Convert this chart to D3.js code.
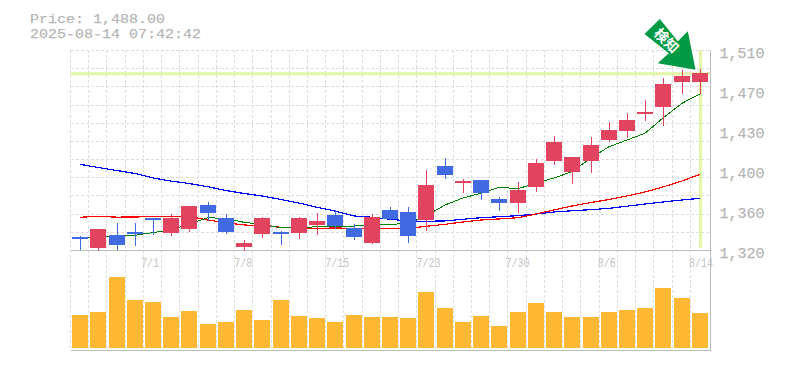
<!DOCTYPE html>
<html><head><meta charset="utf-8">
<script src="https://cdn.jsdelivr.net/npm/d3@7/dist/d3.min.js"></script>
<style>html,body{margin:0;padding:0;background:#fff}svg{display:block}</style>
</head><body><div id="c"></div>
<script>
const dates = ["6/25","6/26","6/27","6/30","7/1","7/2","7/3","7/4","7/7","7/8","7/9","7/10","7/11","7/14","7/15","7/16","7/17","7/18","7/22","7/23","7/24","7/25","7/28","7/29","7/30","7/31","8/1","8/4","8/5","8/6","8/7","8/8","8/12","8/13","8/14"];
const dateLabels = ["7/1","7/8","7/15","7/23","7/30","8/6","8/14"];
const priceTicks = [1320,1358,1396,1434,1472,1510];
const priceLabels = ["1,320","1,360","1,400","1,430","1,470","1,510"];
const open  = [1332.4,1321.9,1334.3,1337.1,1350.4,1335.7,1340,1362.8,1350.4,1322.9,1335.2,1337.1,1336.2,1343.8,1353.3,1340.9,1326.7,1358,1356.1,1348.5,1399.8,1384.6,1386.5,1368.5,1364.6,1379.9,1404.6,1394.1,1404.6,1424.5,1433.1,1449.2,1455.9,1479.6,1479.6];
const close = [1330.5,1340,1324.8,1335.2,1348.5,1350.4,1361.8,1355.2,1337.1,1326.7,1350.4,1335.2,1350.4,1347.6,1342.8,1332.4,1351.4,1349.5,1333.3,1381.8,1391.3,1385.6,1374.2,1364.6,1377,1402.7,1422.6,1408.4,1419.8,1434,1443.5,1451.1,1477.7,1485.3,1488];
const high  = [1333.3,1340,1345.7,1345.7,1350.4,1354.2,1361.8,1365.6,1354.2,1329.5,1351.4,1338,1351.4,1355.2,1358,1344.7,1354.2,1360.9,1360.9,1396,1407.4,1387.5,1386.5,1370.4,1384.6,1406.5,1428.3,1408.4,1427.4,1441.6,1450.2,1462.5,1483.4,1491,1492];
const low   = [1320,1319.5,1320,1323.8,1334.3,1333.3,1337.1,1347.6,1335.2,1319,1331.4,1324.8,1330.5,1334.3,1339.9,1329.5,1325.7,1348.5,1326.7,1338,1387.5,1374.2,1367.5,1357,1355.2,1375.1,1400.8,1382.7,1393.2,1422.6,1426.4,1442.6,1437.8,1468.2,1468.2];
const maShort = [1331.4,1332.4,1333.3,1334,1336.6,1339,1344.7,1350.7,1349.9,1346.3,1344.2,1341.2,1341.2,1342.1,1342.8,1342.8,1343.3,1344.4,1345.2,1352.3,1362.8,1369.4,1373.9,1379.6,1378.2,1383.6,1388.4,1394.4,1407.4,1418.1,1424.5,1430.9,1445.4,1459.4,1468.2];
const maMid = [1351.1,1352,1351.2,1351.4,1351.6,1351.8,1351.8,1348.5,1345.9,1343.8,1342.8,1341.6,1340.9,1340.6,1340.9,1340.6,1340.6,1340.6,1340.6,1342.5,1344.4,1346.6,1348.5,1349.5,1350.7,1354.2,1358,1361.8,1365.1,1368,1371.3,1375.1,1379.9,1385.5,1391.9];
const maLong = [1401.4,1398.4,1395.5,1392.7,1388.4,1385.5,1383.2,1380.1,1376.5,1373.7,1371.3,1368,1364.6,1360.6,1357,1352.3,1351.1,1349.2,1347.6,1347.3,1347.6,1349.2,1350.7,1351.6,1352.6,1354.2,1356.1,1357.3,1358.3,1359.6,1361.6,1363.7,1365.6,1367.5,1369.1];
const volume = [33,36,71,48,46,31,37,24,26,38,28,48,32,30,26,33,31,31,30,56,40,26,32,22,36,45,36,31,31,36,38,40,60,50,35];
const titleLines = ["Price: 1,488.00","2025-08-14 07:42:42"];
const currentPrice = 1488;
const arrowText = "検知";

const L=70.5,R=710.5,T=50,B=250,VB=350;
const MONO='"Liberation Mono","DejaVu Sans Mono",monospace';
const svg=d3.select("#c").append("svg").attr("width",785).attr("height",370);
const x=d3.scaleBand().domain(dates).range([71,709]);
const cx=d=>Math.round(x(d)+x.bandwidth()/2);
const y=d3.scaleLinear().domain([1320,1510]).range([B,T]);
const yv=d3.scaleLinear().domain([0,80]).range([348,268]);

// grid
const g=svg.append("g").attr("stroke","#ddd").attr("stroke-dasharray","3 2").attr("shape-rendering","crispEdges");
g.selectAll(".h").data(d3.range(12).map(i=>1320+i*190/11)).join("line")
 .attr("x1",L).attr("x2",R).attr("y1",d=>Math.round(y(d))+.5).attr("y2",d=>Math.round(y(d))+.5);
g.selectAll(".v").data(dates).join("line")
 .attr("x1",d=>Math.round(x(d))-.5).attr("x2",d=>Math.round(x(d))-.5).attr("y1",T).attr("y2",VB);

// current price markers
const hl="#e3f5a6";
svg.append("line").attr("x1",L).attr("x2",R).attr("y1",y(currentPrice)+.5).attr("y2",y(currentPrice)+.5).attr("stroke",hl).attr("stroke-width",3);
svg.append("line").attr("x1",cx(dates[34])+.5).attr("x2",cx(dates[34])+.5).attr("y1",T).attr("y2",248).attr("stroke",hl).attr("stroke-width",3);

// frame
const fr=svg.append("g").attr("stroke","#bbb").attr("shape-rendering","crispEdges");
fr.append("line").attr("x1",L).attr("x2",R).attr("y1",B+.5).attr("y2",B+.5);
fr.append("line").attr("x1",L).attr("x2",R+.5).attr("y1",VB+.5).attr("y2",VB+.5);
fr.append("line").attr("x1",R).attr("x2",R).attr("y1",T).attr("y2",VB);

// moving averages
const line=d3.line().x((v,i)=>cx(dates[i])).y(v=>y(v));
[[maLong,"#0000ff"],[maMid,"#ff0000"],[maShort,"#008000"]].forEach(([s,c])=>{
  svg.append("path").attr("d",line(s)).attr("fill","none").attr("stroke",c).attr("stroke-width",c==="#008000"?1:1.2).attr("shape-rendering","crispEdges");
});

// candles
const UP="#e2445f",DN="#4169e1";
const cg=svg.append("g").attr("shape-rendering","crispEdges");
dates.forEach((d,i)=>{
  const col=close[i]>=open[i]?UP:DN;
  const t=Math.round(y(Math.max(open[i],close[i]))), b=Math.round(y(Math.min(open[i],close[i])));
  cg.append("rect").attr("x",cx(d)-.5).attr("width",1).attr("y",y(high[i])).attr("height",y(low[i])-y(high[i])).attr("fill",col);
  cg.append("rect").attr("x",cx(d)-8).attr("width",16).attr("y",t).attr("height",Math.max(2,b-t)).attr("fill",col);
});

// volume
svg.append("g").selectAll("rect").data(volume).join("rect").attr("shape-rendering","crispEdges")
 .attr("x",(v,i)=>cx(dates[i])-8).attr("width",16).attr("y",v=>yv(v)).attr("height",v=>yv(0)-yv(v)).attr("fill","#ffb833");

// axes
const ay=svg.append("g").attr("transform",`translate(${R},0)`)
 .call(d3.axisRight(y).tickValues(priceTicks).tickFormat((d,i)=>priceLabels[i]).tickSize(0).tickPadding(9));
ay.select(".domain").remove();
ay.selectAll("text").attr("dy","7px").attr("fill","#b4b4b4").attr("stroke","#bbb").attr("stroke-width",.25).attr("font-family",MONO).attr("font-size",15);
const ax=svg.append("g").attr("transform",`translate(0,${B})`)
 .call(d3.axisBottom(x).tickValues(dates.filter(d=>dateLabels.includes(d))).tickSize(0).tickPadding(0));
ax.select(".domain").remove();
const labelNudge=[-3,-1,2,2,0,-2,1];
ax.selectAll("text").attr("y",0).attr("dy","17px").attr("dx",(d,i)=>labelNudge[i]).attr("fill","#c4c4c4").attr("font-family",MONO).attr("font-size",13)
 .attr("textLength",d=>d.length*6).attr("lengthAdjust","spacingAndGlyphs");

// title
svg.append("g").selectAll("text").data(titleLines).join("text").attr("x",30).attr("y",(d,i)=>22.5+i*15)
 .attr("fill","#b4b4b4").attr("stroke","#bbb").attr("stroke-width",.25).attr("font-family",MONO).attr("font-size",13)
 .attr("textLength",d=>d.length*9).attr("lengthAdjust","spacingAndGlyphs").text(d=>d);

// arrow annotation anchored at last candle / current price
const tipX=cx(dates[34])-4.5, tipY=y(currentPrice)-3.5;
const shape=[[-35.7,-50.7],[-51,-35.7],[-26.7,-16.3],[-37.7,-6.3],[0,0],[-7.7,-38.3],[-17.7,-28.3]];
svg.append("polygon").attr("points",shape.map(p=>[tipX+p[0],tipY+p[1]].join(",")).join(" ")).attr("fill","#009944");
svg.append("text").attr("transform",`translate(${tipX-29},${tipY-29}) rotate(45)`).attr("text-anchor","middle").attr("dy","0.36em")
 .attr("fill","#fff").attr("font-weight","bold").attr("font-family",'"Noto Sans CJK JP"').attr("font-size",14).text(arrowText);
</script></body></html>
